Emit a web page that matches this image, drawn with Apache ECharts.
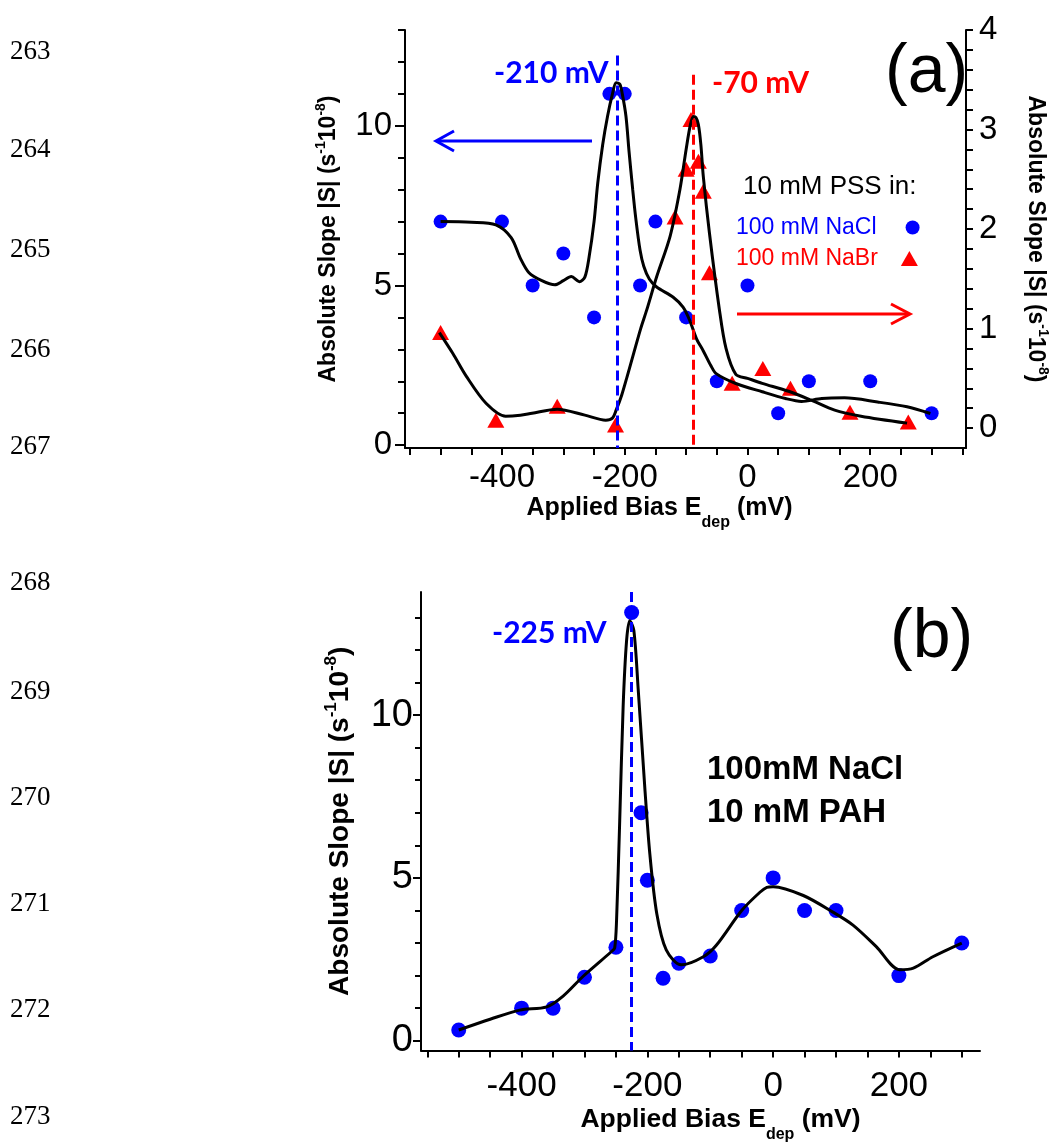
<!DOCTYPE html>
<html><head><meta charset="utf-8">
<script src="https://cdn.jsdelivr.net/npm/echarts@6/dist/echarts.min.js"></script>
<style>html,body{margin:0;padding:0;background:#fff}#c{width:1058px;height:1144px}</style>
</head><body><div id="c"></div>
<script>
// ---------- data (panel a) ----------
const naclPointsA = [[-500,7],[-400,7],[-350,5],[-300,6],[-250,4],[-225,11],[-200,11],[-175,5],[-150,7],[-100,4],[-50,2],[0,5],[50,1],[100,2],[200,2],[300,1]];
const nabrPointsA = [[-500,0.96],[-410,0.08],[-310,0.22],[-215,0.03],[-118,2.12],[-100,2.6],[-92,3.1],[-80,2.68],[-72,2.38],[-62,1.56],[-25,0.45],[25,0.6],[70,0.4],[167,0.16],[262,0.06]];
const naclFitA = [[-500,7.0],[-450,6.98],[-410,6.9],[-385,6.5],[-370,5.85],[-356,5.4],[-335,5.15],[-314,5.02],[-300,5.15],[-287,5.28],[-274,5.12],[-265,5.26],[-258,5.9],[-250,7.0],[-244,8.2],[-236,9.4],[-228,10.3],[-220,11.0],[-214,11.35],[-208,11.3],[-204,11.0],[-198,10.3],[-193,9.2],[-187,8.0],[-182,7.1],[-175,6.1],[-169,5.6],[-160,5.2],[-148,4.95],[-121,4.63],[-105,4.32],[-94,3.9],[-83,3.33],[-72,2.95],[-60,2.5],[-51,2.24],[-19,1.93],[24,1.67],[62,1.46],[88,1.37],[121,1.46],[158,1.48],[212,1.35],[260,1.2],[298,0.99]];
const nabrFitA = [[-502,0.96],[-480,0.75],[-458,0.52],[-426,0.25],[-394,0.12],[-370,0.13],[-351,0.15],[-310,0.19],[-265,0.13],[-231,0.08],[-220,0.1],[-214,0.18],[-205,0.33],[-196,0.52],[-185,0.76],[-174,1.0],[-164,1.19],[-148,1.52],[-126,1.93],[-110,2.4],[-100,2.8],[-93,3.05],[-88,3.13],[-84,3.12],[-80,3.05],[-76,2.85],[-72,2.53],[-62,1.96],[-46,1.2],[-35,0.8],[-19,0.54],[0,0.5],[24,0.45],[67,0.37],[104,0.28],[142,0.18],[185,0.12],[260,0.05]];
const peakA_NaCl = -212;
const peakA_NaBr = -88;

// ---------- data (panel b) ----------
const naclPointsB = [[-500,0.33],[-400,1],[-350,1],[-300,1.95],[-250,2.87],[-225,13.15],[-210,7],[-200,4.93],[-175,1.92],[-150,2.38],[-100,2.6],[-50,4],[0,5],[50,4],[100,4],[200,2],[300,3]];
const naclFitB = [[-500,0.33],[-450,0.66],[-403,0.94],[-360,1.04],[-334,1.37],[-302,1.98],[-257,2.74],[-252,2.85],[-249,3.7],[-244,6.74],[-238.5,10.28],[-233,12.3],[-228,12.9],[-221.5,12.6],[-214.6,10.8],[-204,7.75],[-196,5.72],[-185,3.9],[-170,2.79],[-146,2.33],[-111,2.58],[-90,2.94],[-50,4.0],[-21,4.56],[-10,4.71],[0,4.73],[48,4.46],[95,3.95],[127,3.55],[164,2.89],[201,2.18],[223,2.23],[254,2.58],[300,3.0]];
const peakB = -226;

// ---------- ticks / labels ----------
const xLabels = [-400,-200,0,200];
const xTicksA = [-550,-500,-450,-400,-350,-300,-250,-200,-150,-100,-50,0,50,100,150,200,250,300,350];
const xTicksB = [-550,-500,-450,-400,-350,-300,-250,-200,-150,-100,-50,0,50,100,150,200,250,300];
const yLeftLabels = [0,5,10];
const yLeftMinorA = [1,2,3,4,6,7,8,9,11,12,13];
const yLeftMinorB = [1,2,3,4,6,7,8,9,11,12,13];
const yRightLabels = [0,1,2,3,4];
const yRightTicks = [0,0.2,0.4,0.6,0.8,1,1.2,1.4,1.6,1.8,2,2.2,2.4,2.6,2.8,3,3.2,3.4,3.6,3.8,4];
const lineNumbers = ['263','264','265','266','267','268','269','270','271','272','273'];
const lineNumberY = [52,150,250,350,447,583,692,798,904,1010,1117];

const FONT = "'Liberation Sans', Arial, Helvetica, sans-serif";
const BLUE = '#0000ff', RED = '#ff0000', BLACK = '#000';

const yTitleRich = (fs) => ({
  b: {fontSize: fs, fontWeight: 'bold', fontFamily: FONT, color: BLACK, lineHeight: fs + 6, verticalAlign: 'middle'},
  sup: {fontSize: Math.round(fs * 0.6), fontWeight: 'bold', fontFamily: FONT, color: BLACK, lineHeight: Math.round(fs * 0.6), verticalAlign: 'top'}
});
const yTitle = '{b|Absolute Slope |S| (s}{sup|-1}{b|10}{sup|-8}{b|)}';
const xTitleRich = (fs) => ({
  b: {fontSize: fs, fontWeight: 'bold', fontFamily: FONT, color: BLACK, lineHeight: fs + 10, verticalAlign: 'top'},
  sub: {fontSize: Math.round(fs * 0.62), fontWeight: 'bold', fontFamily: FONT, color: BLACK, lineHeight: Math.round(fs * 0.62), verticalAlign: 'bottom'}
});
const xTitle = '{b|Applied Bias E}{sub|dep}{b| (mV)}';

const axLine = {show: true, onZero: false, lineStyle: {color: BLACK, width: 2}};
const noLine = {show: false, onZero: false};
const tickStyle = {color: BLACK, width: 2};

function xAxis(grid, min, max, ticks, fs, margin, nameGap, titleFs, pad) {
  return {
    type: 'value', gridIndex: grid, min: min, max: max,
    axisLine: axLine,
    axisTick: {show: true, customValues: ticks, length: 7, lineStyle: tickStyle},
    axisLabel: {customValues: xLabels, fontSize: fs, fontFamily: FONT, color: BLACK, margin: margin},
    splitLine: {show: false},
    name: xTitle, nameLocation: 'middle', nameGap: nameGap,
    nameTextStyle: {rich: xTitleRich(titleFs), padding: pad}
  };
}

const option = {
  animation: false,
  backgroundColor: '#fff',
  grid: [
    {left: 405, top: 30, width: 568, height: 418, containLabel: false},
    {left: 421, top: 592, width: 559, height: 463, containLabel: false}
  ],
  xAxis: [
    xAxis(0, -558, 356, xTicksA, 33, 13, 48, 25, [0, 52, 0, 0]),
    xAxis(1, -560, 329, xTicksB, 35, 18, 56, 26.5, [0, 0, 0, 40])
  ],
  yAxis: [
    {type: 'value', gridIndex: 0, position: 'left', min: -0.09, max: 13,
      axisLine: axLine,
      axisTick: {show: true, customValues: yLeftLabels, length: 10, lineStyle: tickStyle},
      axisLabel: {customValues: yLeftLabels, fontSize: 33, fontFamily: FONT, color: BLACK, margin: 13},
      splitLine: {show: false},
      name: yTitle, nameLocation: 'middle', nameGap: 62, nameTextStyle: {rich: yTitleRich(23)}},
    {type: 'value', gridIndex: 0, position: 'left', min: -0.09, max: 13,
      axisLine: noLine,
      axisTick: {show: true, customValues: yLeftMinorA, length: 7, lineStyle: tickStyle},
      axisLabel: {show: false}, splitLine: {show: false}},
    {type: 'value', gridIndex: 0, position: 'right', min: -0.2, max: 4,
      axisLine: axLine,
      axisTick: {show: true, customValues: yRightTicks, length: 7, lineStyle: tickStyle},
      axisLabel: {customValues: yRightLabels, fontSize: 33, fontFamily: FONT, color: BLACK, margin: 13},
      splitLine: {show: false},
      name: yTitle, nameLocation: 'middle', nameRotate: -90, nameGap: 55, nameTextStyle: {rich: yTitleRich(23)}},
    {type: 'value', gridIndex: 1, position: 'left', min: -0.3, max: 13.78,
      axisLine: axLine,
      axisTick: {show: true, customValues: yLeftLabels, length: 8, lineStyle: tickStyle},
      axisLabel: {customValues: yLeftLabels, fontSize: 38, fontFamily: FONT, color: BLACK, margin: 8},
      splitLine: {show: false},
      name: yTitle, nameLocation: 'middle', nameGap: 64, nameTextStyle: {rich: yTitleRich(28)}},
    {type: 'value', gridIndex: 1, position: 'left', min: -0.3, max: 13.78,
      axisLine: noLine,
      axisTick: {show: true, customValues: yLeftMinorB, length: 6, lineStyle: tickStyle},
      axisLabel: {show: false}, splitLine: {show: false}}
  ],
  legend: [
    {data: [{name: '100 mM NaCl', textStyle: {color: BLUE}}], left: 731, top: 211, align: 'right', orient: 'vertical',
      itemWidth: 14, itemHeight: 14, selectedMode: false,
      textStyle: {fontSize: 23, fontFamily: FONT, padding: [0, 24, 0, 0]}},
    {data: [{name: '100 mM NaBr', textStyle: {color: RED}}], left: 731, top: 242, align: 'right', orient: 'vertical',
      itemWidth: 17, itemHeight: 15, selectedMode: false,
      textStyle: {fontSize: 23, fontFamily: FONT, padding: [0, 18, 0, 0]}}
  ],
  series: [
    {name: '100 mM NaCl', type: 'scatter', xAxisIndex: 0, yAxisIndex: 0, data: naclPointsA,
      symbol: 'circle', symbolSize: 14, itemStyle: {color: BLUE, opacity: 1}, z: 2,
      markLine: {silent: true, symbol: ['none', 'none'], label: {show: false}, animation: false,
        lineStyle: {color: BLUE, width: 3, type: [10, 5]},
        data: [[{coord: [peakA_NaCl, 12.2]}, {coord: [peakA_NaCl, -0.09]}]]}},
    {name: '100 mM NaBr', type: 'scatter', xAxisIndex: 0, yAxisIndex: 2, data: nabrPointsA,
      symbol: 'triangle', symbolSize: [17, 15], itemStyle: {color: RED, opacity: 1}, z: 2,
      markLine: {silent: true, symbol: ['none', 'none'], label: {show: false}, animation: false,
        lineStyle: {color: RED, width: 3, type: [10, 5]},
        data: [[{coord: [peakA_NaBr, 3.55]}, {coord: [peakA_NaBr, -0.2]}]]}},
    {name: 'fitA1', type: 'line', xAxisIndex: 0, yAxisIndex: 0, data: naclFitA, showSymbol: false, symbol: 'none',
      smooth: 0.3, lineStyle: {color: BLACK, width: 3}, z: 3},
    {name: 'fitA2', type: 'line', xAxisIndex: 0, yAxisIndex: 2, data: nabrFitA, showSymbol: false, symbol: 'none',
      smooth: 0.3, lineStyle: {color: BLACK, width: 3}, z: 3},
    {name: 'b NaCl', type: 'scatter', xAxisIndex: 1, yAxisIndex: 3, data: naclPointsB,
      symbol: 'circle', symbolSize: 15, itemStyle: {color: BLUE, opacity: 1}, z: 2,
      markLine: {silent: true, symbol: ['none', 'none'], label: {show: false}, animation: false,
        lineStyle: {color: BLUE, width: 3, type: [10, 5]},
        data: [[{coord: [peakB, 13.78]}, {coord: [peakB, -0.3]}]]}},
    {name: 'fitB', type: 'line', xAxisIndex: 1, yAxisIndex: 3, data: naclFitB, showSymbol: false, symbol: 'none',
      smooth: 0.3, lineStyle: {color: BLACK, width: 3}, z: 3}
  ],
  graphic: []
};

const g = option.graphic;
function txt(x, y, text, size, color, weight, family, align) {
  g.push({type: 'text', x: x, y: y, silent: true, z: 10,
    style: {text: text, fontSize: size, fontWeight: weight || 'normal', fontFamily: family || FONT,
      fill: color, align: align || 'left', verticalAlign: 'middle'}});
}
lineNumbers.forEach((t, i) => txt(10, lineNumberY[i], t, 27, BLACK, 'normal', "'Liberation Serif', 'Times New Roman', serif"));
txt(885, 73, '(a)', 68, BLACK);
txt(890, 638, '(b)', 68, BLACK);
txt(494, 73, '-210 mV', 30, BLUE, 'bold', 'Lato, sans-serif');
txt(712, 83, '-70 mV', 30, RED, 'bold', 'Lato, sans-serif');
txt(492, 633, '-225 mV', 30, BLUE, 'bold', 'Lato, sans-serif');
txt(743, 187, '10 mM PSS in:', 26, BLACK);
txt(707, 770, '100mM NaCl', 33, BLACK, 'bold');
txt(707, 813, '10 mM PAH', 33, BLACK, 'bold');
// arrows
g.push({type: 'polyline', silent: true, shape: {points: [[592, 141], [437, 141]]}, style: {stroke: BLUE, lineWidth: 3, fill: null}});
g.push({type: 'polyline', silent: true, shape: {points: [[454, 131], [436, 141], [454, 151]]}, style: {stroke: BLUE, lineWidth: 3, fill: null}});
g.push({type: 'polyline', silent: true, shape: {points: [[737, 314], [909, 314]]}, style: {stroke: RED, lineWidth: 3, fill: null}});
g.push({type: 'polyline', silent: true, shape: {points: [[891, 304], [910, 314], [891, 324]]}, style: {stroke: RED, lineWidth: 3, fill: null}});

const chart = echarts.init(document.getElementById('c'), null, {renderer: 'canvas'});
chart.setOption(option);
</script>
</body></html>
